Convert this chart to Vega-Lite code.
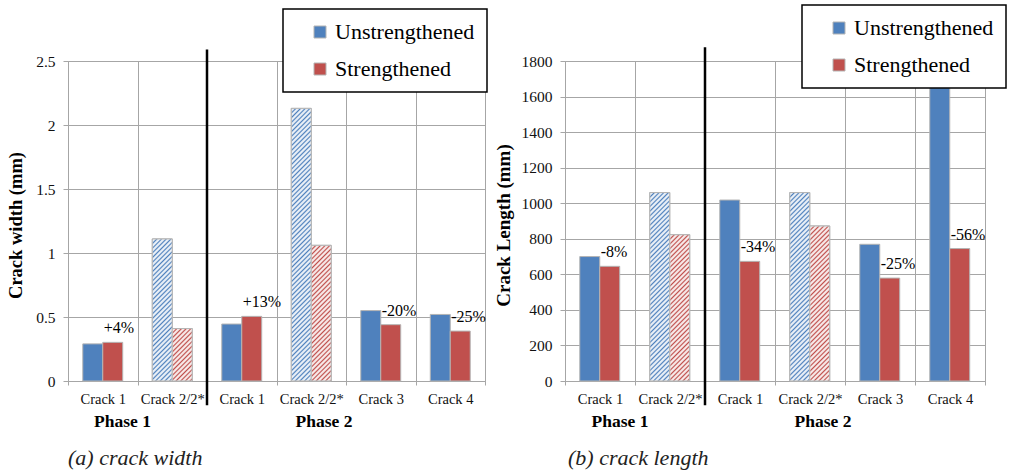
{
  "$schema": "https://vega.github.io/schema/vega-lite/v6.json",
  "autosize": {"type": "none"},
  "padding": {"left": 68, "top": 61, "right": 944, "bottom": 413},
  "background": "white",
  "bounds": "flush",
  "spacing": 80,
  "params": [
    {
      "name": "hatch",
      "value": [
        {"offset":0,"color":"#fff0"},{"offset":0.005,"color":"#fffd"},{"offset":0.01,"color":"#fffd"},
        {"offset":0.015,"color":"#fff0"},{"offset":0.02,"color":"#fffd"},{"offset":0.025,"color":"#fffd"},
        {"offset":0.03,"color":"#fff0"},{"offset":0.035,"color":"#fffd"},{"offset":0.04,"color":"#fffd"},
        {"offset":0.045,"color":"#fff0"},{"offset":0.05,"color":"#fffd"},{"offset":0.055,"color":"#fffd"},
        {"offset":0.06,"color":"#fff0"},{"offset":0.065,"color":"#fffd"},{"offset":0.07,"color":"#fffd"},
        {"offset":0.075,"color":"#fff0"},{"offset":0.08,"color":"#fffd"},{"offset":0.085,"color":"#fffd"},
        {"offset":0.09,"color":"#fff0"},{"offset":0.095,"color":"#fffd"},{"offset":0.1,"color":"#fffd"},
        {"offset":0.105,"color":"#fff0"},{"offset":0.11,"color":"#fffd"},{"offset":0.115,"color":"#fffd"},
        {"offset":0.12,"color":"#fff0"},{"offset":0.125,"color":"#fffd"},{"offset":0.13,"color":"#fffd"},
        {"offset":0.135,"color":"#fff0"},{"offset":0.14,"color":"#fffd"},{"offset":0.145,"color":"#fffd"},
        {"offset":0.15,"color":"#fff0"},{"offset":0.155,"color":"#fffd"},{"offset":0.16,"color":"#fffd"},
        {"offset":0.165,"color":"#fff0"},{"offset":0.17,"color":"#fffd"},{"offset":0.175,"color":"#fffd"},
        {"offset":0.18,"color":"#fff0"},{"offset":0.185,"color":"#fffd"},{"offset":0.19,"color":"#fffd"},
        {"offset":0.195,"color":"#fff0"},{"offset":0.2,"color":"#fffd"},{"offset":0.205,"color":"#fffd"},
        {"offset":0.21,"color":"#fff0"},{"offset":0.215,"color":"#fffd"},{"offset":0.22,"color":"#fffd"},
        {"offset":0.225,"color":"#fff0"},{"offset":0.23,"color":"#fffd"},{"offset":0.235,"color":"#fffd"},
        {"offset":0.24,"color":"#fff0"},{"offset":0.245,"color":"#fffd"},{"offset":0.25,"color":"#fffd"},
        {"offset":0.255,"color":"#fff0"},{"offset":0.26,"color":"#fffd"},{"offset":0.265,"color":"#fffd"},
        {"offset":0.27,"color":"#fff0"},{"offset":0.275,"color":"#fffd"},{"offset":0.28,"color":"#fffd"},
        {"offset":0.285,"color":"#fff0"},{"offset":0.29,"color":"#fffd"},{"offset":0.295,"color":"#fffd"},
        {"offset":0.3,"color":"#fff0"},{"offset":0.305,"color":"#fffd"},{"offset":0.31,"color":"#fffd"},
        {"offset":0.315,"color":"#fff0"},{"offset":0.32,"color":"#fffd"},{"offset":0.325,"color":"#fffd"},
        {"offset":0.33,"color":"#fff0"},{"offset":0.335,"color":"#fffd"},{"offset":0.34,"color":"#fffd"},
        {"offset":0.345,"color":"#fff0"},{"offset":0.35,"color":"#fffd"},{"offset":0.355,"color":"#fffd"},
        {"offset":0.36,"color":"#fff0"},{"offset":0.365,"color":"#fffd"},{"offset":0.37,"color":"#fffd"},
        {"offset":0.375,"color":"#fff0"},{"offset":0.38,"color":"#fffd"},{"offset":0.385,"color":"#fffd"},
        {"offset":0.39,"color":"#fff0"},{"offset":0.395,"color":"#fffd"},{"offset":0.4,"color":"#fffd"},
        {"offset":0.405,"color":"#fff0"},{"offset":0.41,"color":"#fffd"},{"offset":0.415,"color":"#fffd"},
        {"offset":0.42,"color":"#fff0"},{"offset":0.425,"color":"#fffd"},{"offset":0.43,"color":"#fffd"},
        {"offset":0.435,"color":"#fff0"},{"offset":0.44,"color":"#fffd"},{"offset":0.445,"color":"#fffd"},
        {"offset":0.45,"color":"#fff0"},{"offset":0.455,"color":"#fffd"},{"offset":0.46,"color":"#fffd"},
        {"offset":0.465,"color":"#fff0"},{"offset":0.47,"color":"#fffd"},{"offset":0.475,"color":"#fffd"},
        {"offset":0.48,"color":"#fff0"},{"offset":0.485,"color":"#fffd"},{"offset":0.49,"color":"#fffd"},
        {"offset":0.495,"color":"#fff0"},{"offset":0.5,"color":"#fffd"},{"offset":0.505,"color":"#fffd"},
        {"offset":0.51,"color":"#fff0"},{"offset":0.515,"color":"#fffd"},{"offset":0.52,"color":"#fffd"},
        {"offset":0.525,"color":"#fff0"},{"offset":0.53,"color":"#fffd"},{"offset":0.535,"color":"#fffd"},
        {"offset":0.54,"color":"#fff0"},{"offset":0.545,"color":"#fffd"},{"offset":0.55,"color":"#fffd"},
        {"offset":0.555,"color":"#fff0"},{"offset":0.56,"color":"#fffd"},{"offset":0.565,"color":"#fffd"},
        {"offset":0.57,"color":"#fff0"},{"offset":0.575,"color":"#fffd"},{"offset":0.58,"color":"#fffd"},
        {"offset":0.585,"color":"#fff0"},{"offset":0.59,"color":"#fffd"},{"offset":0.595,"color":"#fffd"},
        {"offset":0.6,"color":"#fff0"},{"offset":0.605,"color":"#fffd"},{"offset":0.61,"color":"#fffd"},
        {"offset":0.615,"color":"#fff0"},{"offset":0.62,"color":"#fffd"},{"offset":0.625,"color":"#fffd"},
        {"offset":0.63,"color":"#fff0"},{"offset":0.635,"color":"#fffd"},{"offset":0.64,"color":"#fffd"},
        {"offset":0.645,"color":"#fff0"},{"offset":0.65,"color":"#fffd"},{"offset":0.655,"color":"#fffd"},
        {"offset":0.66,"color":"#fff0"},{"offset":0.665,"color":"#fffd"},{"offset":0.67,"color":"#fffd"},
        {"offset":0.675,"color":"#fff0"},{"offset":0.68,"color":"#fffd"},{"offset":0.685,"color":"#fffd"},
        {"offset":0.69,"color":"#fff0"},{"offset":0.695,"color":"#fffd"},{"offset":0.7,"color":"#fffd"},
        {"offset":0.705,"color":"#fff0"},{"offset":0.71,"color":"#fffd"},{"offset":0.715,"color":"#fffd"},
        {"offset":0.72,"color":"#fff0"},{"offset":0.725,"color":"#fffd"},{"offset":0.73,"color":"#fffd"},
        {"offset":0.735,"color":"#fff0"},{"offset":0.74,"color":"#fffd"},{"offset":0.745,"color":"#fffd"},
        {"offset":0.75,"color":"#fff0"},{"offset":0.755,"color":"#fffd"},{"offset":0.76,"color":"#fffd"},
        {"offset":0.765,"color":"#fff0"},{"offset":0.77,"color":"#fffd"},{"offset":0.775,"color":"#fffd"},
        {"offset":0.78,"color":"#fff0"},{"offset":0.785,"color":"#fffd"},{"offset":0.79,"color":"#fffd"},
        {"offset":0.795,"color":"#fff0"},{"offset":0.8,"color":"#fffd"},{"offset":0.805,"color":"#fffd"},
        {"offset":0.81,"color":"#fff0"},{"offset":0.815,"color":"#fffd"},{"offset":0.82,"color":"#fffd"},
        {"offset":0.825,"color":"#fff0"},{"offset":0.83,"color":"#fffd"},{"offset":0.835,"color":"#fffd"},
        {"offset":0.84,"color":"#fff0"},{"offset":0.845,"color":"#fffd"},{"offset":0.85,"color":"#fffd"},
        {"offset":0.855,"color":"#fff0"},{"offset":0.86,"color":"#fffd"},{"offset":0.865,"color":"#fffd"},
        {"offset":0.87,"color":"#fff0"},{"offset":0.875,"color":"#fffd"},{"offset":0.88,"color":"#fffd"},
        {"offset":0.885,"color":"#fff0"},{"offset":0.89,"color":"#fffd"},{"offset":0.895,"color":"#fffd"},
        {"offset":0.9,"color":"#fff0"},{"offset":0.905,"color":"#fffd"},{"offset":0.91,"color":"#fffd"},
        {"offset":0.915,"color":"#fff0"},{"offset":0.92,"color":"#fffd"},{"offset":0.925,"color":"#fffd"},
        {"offset":0.93,"color":"#fff0"},{"offset":0.935,"color":"#fffd"},{"offset":0.94,"color":"#fffd"},
        {"offset":0.945,"color":"#fff0"},{"offset":0.95,"color":"#fffd"},{"offset":0.955,"color":"#fffd"},
        {"offset":0.96,"color":"#fff0"},{"offset":0.965,"color":"#fffd"},{"offset":0.97,"color":"#fffd"},
        {"offset":0.975,"color":"#fff0"},{"offset":0.98,"color":"#fffd"},{"offset":0.985,"color":"#fffd"},
        {"offset":0.99,"color":"#fff0"},{"offset":0.995,"color":"#fffd"},{"offset":1,"color":"#fffd"}
      ]
    }
  ],
  "datasets": {
    "cracks": [
      {"key": "P1|Crack 1", "cond": "Unstrengthened", "width": 0.29, "length": 700},
      {"key": "P1|Crack 1", "cond": "Strengthened", "width": 0.302, "length": 645, "dw": "+4%", "dl": "-8%"},
      {"key": "P1|Crack 2/2*", "cond": "Unstrengthened", "width": 1.11, "length": 1060},
      {"key": "P1|Crack 2/2*", "cond": "Strengthened", "width": 0.41, "length": 823},
      {"key": "P2|Crack 1", "cond": "Unstrengthened", "width": 0.445, "length": 1018},
      {"key": "P2|Crack 1", "cond": "Strengthened", "width": 0.505, "length": 673, "dw": "+13%", "dl": "-34%"},
      {"key": "P2|Crack 2/2*", "cond": "Unstrengthened", "width": 2.13, "length": 1060},
      {"key": "P2|Crack 2/2*", "cond": "Strengthened", "width": 1.06, "length": 872},
      {"key": "P2|Crack 3", "cond": "Unstrengthened", "width": 0.55, "length": 769},
      {"key": "P2|Crack 3", "cond": "Strengthened", "width": 0.44, "length": 579, "dw": "-20%", "dl": "-25%"},
      {"key": "P2|Crack 4", "cond": "Unstrengthened", "width": 0.52, "length": 1650},
      {"key": "P2|Crack 4", "cond": "Strengthened", "width": 0.39, "length": 745, "dw": "-25%", "dl": "-56%"}
    ]
  },
  "config": {
    "view": {"stroke": "#a6a6a6", "strokeWidth": 1},
    "text": {"font": "Liberation Serif"},
    "axis": {
      "labelFont": "Liberation Serif",
      "labelColor": "#111",
      "titleFont": "Liberation Serif",
      "titleColor": "#000",
      "titleFontWeight": "bold",
      "gridColor": "#a6a6a6",
      "gridWidth": 1,
      "tickColor": "#a6a6a6",
      "domain": false
    },
    "legend": {
      "labelFont": "Liberation Serif",
      "labelFontSize": 22,
      "labelColor": "#000",
      "symbolType": "square",
      "symbolSize": 144,
      "symbolStrokeColor": "#b4b4b4",
      "symbolStrokeWidth": 1,
      "padding": 12,
      "rowPadding": 15,
      "symbolOffset": 14,
      "labelOffset": 4,
      "fillColor": "#fff",
      "strokeColor": "#000",
      "strokeWidth": 1.5
    }
  },
  "resolve": {"scale": {"color": "independent"}, "legend": {"color": "independent"}},
  "hconcat": [
    {
      "width": 417,
      "height": 320,
      "data": {"name": "cracks"},
      "layer": [
        {
          "mark": {"type": "bar", "stroke": "#b4b4b4", "strokeWidth": 1},
          "encoding": {
            "x": {"field": "key", "type": "nominal", "sort": null,
              "scale": {"domain": ["P1|Crack 1", "P1|Crack 2/2*", "P2|Crack 1", "P2|Crack 2/2*", "P2|Crack 3", "P2|Crack 4"], "paddingInner": 0, "paddingOuter": 0},
              "axis": {"title": null, "labelExpr": "split(datum.value, '|')[1]", "labelAngle": 0, "labelFontSize": 14.5, "tickBand": "extent", "tickSize": 4, "labelPadding": 7, "grid": true}},
            "xOffset": {"field": "cond", "type": "nominal", "scale": {"domain": ["Unstrengthened", "Strengthened"], "paddingInner": 0, "paddingOuter": 0.74}},
            "y": {"field": "width", "type": "quantitative",
              "scale": {"domain": [0, 2.5], "nice": false},
              "axis": {"title": "Crack width (mm)", "titleFontSize": 18.5, "titleX": -53, "titleY": 164, "titleAngle": -90, "titleAlign": "center", "titleBaseline": "middle",
                "values": [0, 0.5, 1, 1.5, 2, 2.5], "tickCount": 20, "format": "~g", "labelFontSize": 15.5, "tickSize": 5, "labelPadding": 8, "grid": true}},
            "color": {"field": "cond", "type": "nominal",
              "scale": {"domain": ["Unstrengthened", "Strengthened"], "range": ["#4f81bd", "#c0504d"]},
              "legend": {"title": null, "orient": "none", "legendX": 215, "legendY": -52, "direction": "vertical", "labelExpr": "datum.label + '\u00a0\u00a0'"}}
          }
        },
        {
          "transform": [{"filter": "indexof(datum.key, '2/2*') >= 0"}],
          "mark": {"type": "bar", "stroke": "#b4b4b4", "strokeWidth": 1,
            "fill": {"expr": "{gradient: 'linear', x1: 0, y1: 0, x2: 6250 / (400 + pow(128 * datum.width, 2)), y2: 40000 * datum.width / (400 + pow(128 * datum.width, 2)), stops: hatch}"}},
          "encoding": {
            "x": {"field": "key", "type": "nominal"},
            "xOffset": {"field": "cond", "type": "nominal"},
            "y": {"field": "width", "type": "quantitative"}
          }
        },
        {
          "transform": [{"filter": "datum.dw"}],
          "mark": {"type": "text", "align": "left", "baseline": "alphabetic", "dx": -9, "dy": -9, "font": "Liberation Serif", "fontSize": 16, "color": "#000"},
          "encoding": {
            "x": {"field": "key", "type": "nominal"},
            "xOffset": {"field": "cond", "type": "nominal"},
            "y": {"field": "width", "type": "quantitative"},
            "text": {"field": "dw"}
          }
        },
        {
          "data": {"values": [{}]},
          "mark": {"type": "rule", "color": "#000", "strokeWidth": 2.5},
          "encoding": {
            "x": {"datum": "P2|Crack 1", "type": "nominal", "bandPosition": 0},
            "y": {"datum": -0.19, "type": "quantitative"},
            "y2": {"datum": 2.59}
          }
        },
        {
          "data": {"values": [{}]},
          "mark": {"type": "text", "text": "Phase 1", "font": "Liberation Serif", "fontWeight": "bold", "fontSize": 17.5, "align": "center", "baseline": "alphabetic", "dx": -15, "color": "#000"},
          "encoding": {
            "x": {"datum": "P1|Crack 2/2*", "type": "nominal", "bandPosition": 0},
            "y": {"datum": -0.359, "type": "quantitative"}
          }
        },
        {
          "data": {"values": [{}]},
          "mark": {"type": "text", "text": "Phase 2", "font": "Liberation Serif", "fontWeight": "bold", "fontSize": 17.5, "align": "center", "baseline": "alphabetic", "dx": -22, "color": "#000"},
          "encoding": {
            "x": {"datum": "P2|Crack 3", "type": "nominal", "bandPosition": 0},
            "y": {"datum": -0.359, "type": "quantitative"}
          }
        },
        {
          "data": {"values": [{}]},
          "mark": {"type": "text", "text": "(a) crack width", "font": "Liberation Serif", "fontStyle": "italic", "fontSize": 22, "align": "left", "baseline": "alphabetic", "dx": 0, "color": "#222"},
          "encoding": {
            "x": {"datum": "P1|Crack 1", "type": "nominal", "bandPosition": 0},
            "y": {"datum": -0.656, "type": "quantitative"}
          }
        }
      ]
    },
    {
      "width": 420,
      "height": 320,
      "data": {"name": "cracks"},
      "layer": [
        {
          "mark": {"type": "bar", "stroke": "#b4b4b4", "strokeWidth": 1},
          "encoding": {
            "x": {"field": "key", "type": "nominal", "sort": null,
              "scale": {"domain": ["P1|Crack 1", "P1|Crack 2/2*", "P2|Crack 1", "P2|Crack 2/2*", "P2|Crack 3", "P2|Crack 4"], "paddingInner": 0, "paddingOuter": 0},
              "axis": {"title": null, "labelExpr": "split(datum.value, '|')[1]", "labelAngle": 0, "labelFontSize": 14.5, "tickBand": "extent", "tickSize": 4, "labelPadding": 7, "grid": true}},
            "xOffset": {"field": "cond", "type": "nominal", "scale": {"domain": ["Unstrengthened", "Strengthened"], "paddingInner": 0, "paddingOuter": 0.74}},
            "y": {"field": "length", "type": "quantitative",
              "scale": {"domain": [0, 1800], "nice": false},
              "axis": {"title": "Crack Length (mm)", "titleFontSize": 19, "titleX": -61.5, "titleY": 164, "titleAngle": -90, "titleAlign": "center", "titleBaseline": "middle",
                "values": [0, 200, 400, 600, 800, 1000, 1200, 1400, 1600, 1800], "tickCount": 20, "labelOverlap": false, "format": "d", "labelFontSize": 15.5, "tickSize": 5, "labelPadding": 8, "grid": true}},
            "color": {"field": "cond", "type": "nominal",
              "scale": {"domain": ["Unstrengthened", "Strengthened"], "range": ["#4f81bd", "#c0504d"]},
              "legend": {"title": null, "orient": "none", "legendX": 237, "legendY": -56, "direction": "vertical", "labelExpr": "datum.label + '\u00a0\u00a0'"}}
          }
        },
        {
          "transform": [{"filter": "indexof(datum.key, '2/2*') >= 0"}],
          "mark": {"type": "bar", "stroke": "#b4b4b4", "strokeWidth": 1,
            "fill": {"expr": "{gradient: 'linear', x1: 0, y1: 0, x2: 6250 / (400 + pow(datum.length / 5.625, 2)), y2: 55.5556 * datum.length / (400 + pow(datum.length / 5.625, 2)), stops: hatch}"}},
          "encoding": {
            "x": {"field": "key", "type": "nominal"},
            "xOffset": {"field": "cond", "type": "nominal"},
            "y": {"field": "length", "type": "quantitative"}
          }
        },
        {
          "transform": [{"filter": "datum.dl"}],
          "mark": {"type": "text", "align": "left", "baseline": "alphabetic", "dx": -9, "dy": -9, "font": "Liberation Serif", "fontSize": 16, "color": "#000"},
          "encoding": {
            "x": {"field": "key", "type": "nominal"},
            "xOffset": {"field": "cond", "type": "nominal"},
            "y": {"field": "length", "type": "quantitative"},
            "text": {"field": "dl"}
          }
        },
        {
          "data": {"values": [{}]},
          "mark": {"type": "rule", "color": "#000", "strokeWidth": 2.5},
          "encoding": {
            "x": {"datum": "P2|Crack 1", "type": "nominal", "bandPosition": 0},
            "y": {"datum": -137, "type": "quantitative"},
            "y2": {"datum": 1877}
          }
        },
        {
          "data": {"values": [{}]},
          "mark": {"type": "text", "text": "Phase 1", "font": "Liberation Serif", "fontWeight": "bold", "fontSize": 17.5, "align": "center", "baseline": "alphabetic", "dx": -15, "color": "#000"},
          "encoding": {
            "x": {"datum": "P1|Crack 2/2*", "type": "nominal", "bandPosition": 0},
            "y": {"datum": -258.75, "type": "quantitative"}
          }
        },
        {
          "data": {"values": [{}]},
          "mark": {"type": "text", "text": "Phase 2", "font": "Liberation Serif", "fontWeight": "bold", "fontSize": 17.5, "align": "center", "baseline": "alphabetic", "dx": -22, "color": "#000"},
          "encoding": {
            "x": {"datum": "P2|Crack 3", "type": "nominal", "bandPosition": 0},
            "y": {"datum": -258.75, "type": "quantitative"}
          }
        },
        {
          "data": {"values": [{}]},
          "mark": {"type": "text", "text": "(b) crack length", "font": "Liberation Serif", "fontStyle": "italic", "fontSize": 22, "align": "left", "baseline": "alphabetic", "dx": 3, "color": "#222"},
          "encoding": {
            "x": {"datum": "P1|Crack 1", "type": "nominal", "bandPosition": 0},
            "y": {"datum": -472.5, "type": "quantitative"}
          }
        }
      ]
    }
  ]
}
